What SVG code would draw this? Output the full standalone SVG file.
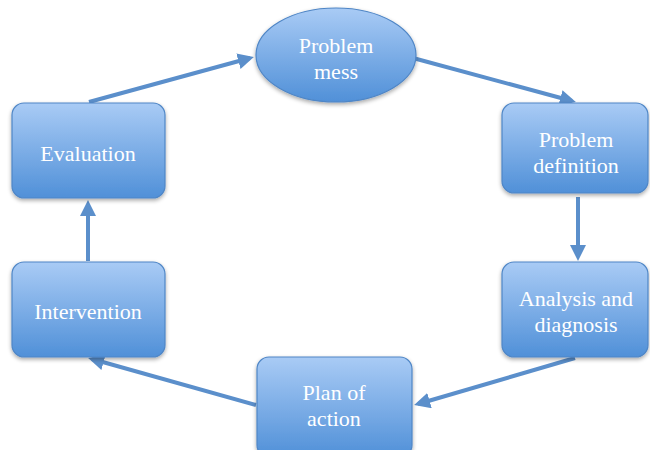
<svg xmlns="http://www.w3.org/2000/svg" width="650" height="450" viewBox="0 0 650 450">
<defs>
<linearGradient id="g" x1="0" y1="0" x2="0" y2="1">
<stop offset="0" stop-color="#a9cbf5"/>
<stop offset="1" stop-color="#5090d8"/>
</linearGradient>
<filter id="sh" x="-10%" y="-10%" width="130%" height="130%">
<feGaussianBlur in="SourceAlpha" stdDeviation="2"/>
<feOffset dx="0" dy="2" result="b"/>
<feComponentTransfer><feFuncA type="linear" slope="0.35"/></feComponentTransfer>
<feMerge><feMergeNode/><feMergeNode in="SourceGraphic"/></feMerge>
</filter>
<marker id="ah" markerWidth="4" markerHeight="4" refX="3" refY="2" orient="auto" markerUnits="strokeWidth">
<path d="M0,0 L4,2 L0,4 Z" fill="#5b8fcb"/>
</marker>
<style>
.n{fill:url(#g);stroke:#4f86c6;stroke-width:1.2;filter:url(#sh)}
.t{font-size:22px;fill:#ffffff;text-anchor:middle}
.c{stroke:#5b8fcb;stroke-width:4;fill:none;marker-end:url(#ah)}
</style>
</defs>
<rect width="650" height="450" fill="#ffffff"/>
<g id="connectors">
<line class="c" x1="89" y1="102" x2="250" y2="58"/>
<line class="c" x1="413" y1="58" x2="572" y2="101"/>
<line class="c" x1="578" y1="197" x2="578" y2="257"/>
<line class="c" x1="575" y1="358" x2="418" y2="404"/>
<line class="c" x1="256" y1="405" x2="92" y2="359"/>
<line class="c" x1="88" y1="261" x2="88" y2="204"/>
</g>
<g font-family="'Liberation Serif', 'Times New Roman', 'DejaVu Serif', serif">
<g id="problem-mess">
<ellipse class="n" cx="336" cy="55" rx="80" ry="47"/>
<text class="t" x="336" y="53">Problem</text>
<text class="t" x="336" y="79">mess</text>
</g>
<g id="problem-definition">
<rect class="n" x="502" y="103" width="146" height="90" rx="12"/>
<text class="t" x="576" y="147">Problem</text>
<text class="t" x="576" y="173">definition</text>
</g>
<g id="analysis">
<rect class="n" x="502" y="262" width="146" height="95" rx="12"/>
<text class="t" x="576" y="306">Analysis and</text>
<text class="t" x="576" y="332">diagnosis</text>
</g>
<g id="plan">
<rect class="n" x="257" y="357" width="155" height="100" rx="12"/>
<text class="t" x="334" y="400">Plan of</text>
<text class="t" x="334" y="426">action</text>
</g>
<g id="intervention">
<rect class="n" x="12" y="262" width="153" height="95" rx="12"/>
<text class="t" x="88" y="319">Intervention</text>
</g>
<g id="evaluation">
<rect class="n" x="12" y="103" width="153" height="95" rx="12"/>
<text class="t" x="88" y="161">Evaluation</text>
</g>
</g>
</svg>
